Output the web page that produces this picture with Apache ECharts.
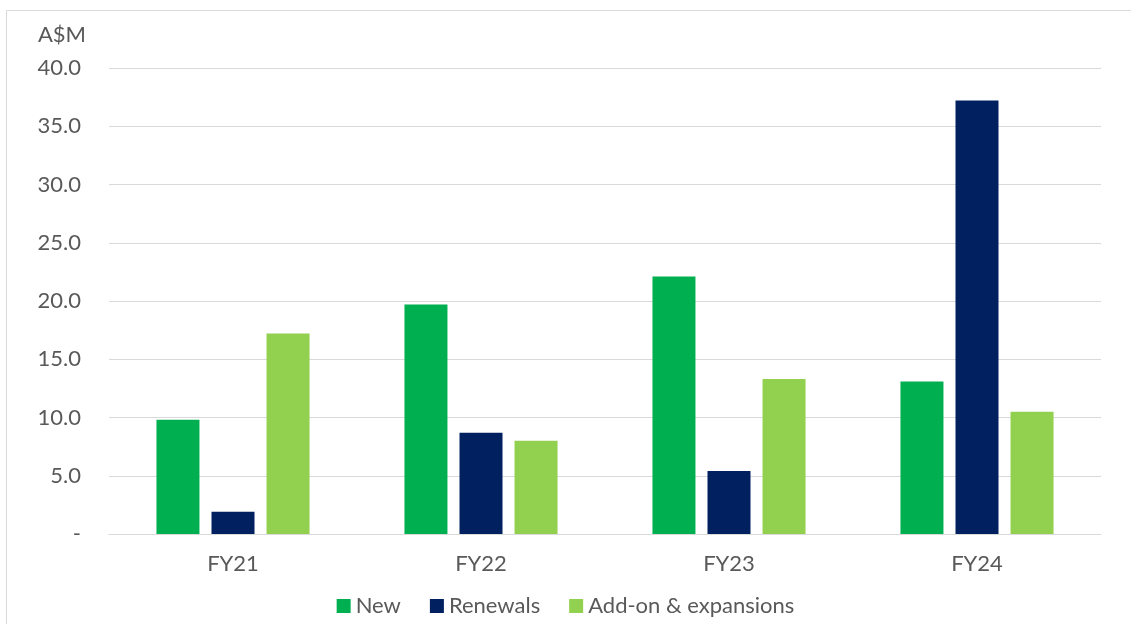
<!DOCTYPE html>
<html>
<head>
<meta charset="utf-8">
<script src="https://cdn.jsdelivr.net/npm/echarts@6/dist/echarts.min.js"></script>
<style>
html,body{margin:0;padding:0;background:#fff;}
#chart{width:1131px;height:624px;}
</style>
</head>
<body>
<div id="chart"></div>
<script>
var categories = ['FY21', 'FY22', 'FY23', 'FY24'];
var newValues = [9.8, 19.7, 22.1, 13.1];
var renewalValues = [1.9, 8.7, 5.4, 37.2];
var addonValues = [17.2, 8.0, 13.3, 10.5];
var seriesNames = ['New', 'Renewals', 'Add-on & expansions'];

var FONT = 'Lato, "Open Sans", sans-serif';
var TXT = '#595959';
var FS = 22;
var chart = echarts.init(document.getElementById('chart'), null, {renderer: 'canvas'});
chart.setOption({
  animation: false,
  backgroundColor: '#ffffff',
  graphic: [{
    type: 'rect',
    shape: {x: 6.5, y: 10.5, width: 1300, height: 800},
    style: {fill: 'none', stroke: '#D9D9D9', lineWidth: 1},
    silent: true, z: -1
  }],
  grid: {left: 109, right: 30, top: 68, bottom: 90, containLabel: false},
  legend: {
    data: seriesNames,
    left: 'center',
    top: 590,
    itemWidth: 14,
    itemHeight: 14,
    itemGap: 29,
    icon: 'rect',
    textStyle: {fontFamily: FONT, fontSize: FS, color: TXT}
  },
  xAxis: {
    type: 'category',
    data: categories,
    axisLine: {lineStyle: {color: '#D9D9D9', width: 1}},
    axisTick: {show: false},
    axisLabel: {fontFamily: FONT, fontSize: FS, color: TXT, margin: 19}
  },
  yAxis: {
    type: 'value',
    min: 0,
    max: 40,
    interval: 5,
    name: 'A$M',
    nameLocation: 'end',
    nameGap: 33,
    nameTextStyle: {fontFamily: FONT, fontSize: FS, color: TXT, align: 'right', verticalAlign: 'middle', padding: [0, 23, 0, 0]},
    axisLine: {show: false},
    axisTick: {show: false},
    splitLine: {lineStyle: {color: '#D9D9D9', width: 1}},
    axisLabel: {
      fontFamily: FONT, fontSize: FS, color: TXT, margin: 28,
      formatter: function (v) { return v === 0 ? '-' : v.toFixed(1); }
    }
  },
  series: [
    {name: seriesNames[0], type: 'bar', data: newValues, barWidth: 43, barGap: '28%', itemStyle: {color: '#00B050'}},
    {name: seriesNames[1], type: 'bar', data: renewalValues, barWidth: 43, barGap: '28%', itemStyle: {color: '#002060'}},
    {name: seriesNames[2], type: 'bar', data: addonValues, barWidth: 43, barGap: '28%', itemStyle: {color: '#92D050'}}
  ]
});
</script>
</body>
</html>
